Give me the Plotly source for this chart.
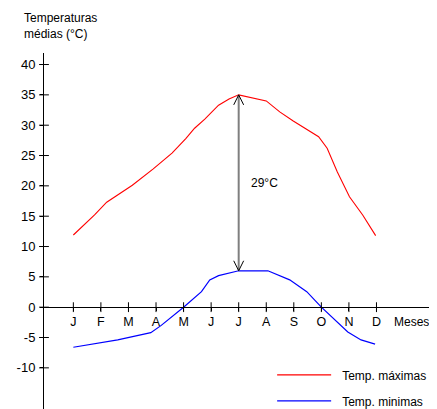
import plotly.graph_objects as go

# ---- data ----
months = ["J", "F", "M", "A", "M", "J", "J", "A", "S", "O", "N", "D"]
month_pos = list(range(12))

# Temp. máximas (position in months from January, °C)
max_x = [0, 0.34, 0.77, 1.21, 1.5, 2.14, 2.9, 3.58, 4.08, 4.4, 4.77, 5.27, 5.65,
         6, 7, 7.49, 7.98, 8.9, 9.21, 9.58, 10.02, 10.5, 10.97]
max_y = [11.9, 13.3, 15.2, 17.3, 18.2, 20.1, 22.8, 25.4, 27.8, 29.5, 31.0, 33.3, 34.3,
         35.0, 34.0, 32.2, 30.7, 28.1, 26.2, 22.3, 18.2, 15.2, 11.8]

# Temp. minimas
min_x = [0, 1.14, 1.61, 2.81, 3.19, 4, 4.65, 4.95, 5.27, 6, 7.06, 7.85, 8.47, 9,
         9.96, 10.44, 10.95]
min_y = [-6.6, -5.8, -5.4, -4.2, -3.0, 0, 2.55, 4.5, 5.2, 6.0, 6.0, 4.5, 2.55, 0,
         -4.1, -5.4, -6.1]

y_tick_vals = [-10, -5, 0, 5, 10, 15, 20, 25, 30, 35, 40]
y_tick_text = ["-10", "-5", "0", "5", "10", "15", "20", "25", "30", "35", "40"]

amplitude_month = 6  # July
amplitude_top = 35
amplitude_bottom = 6

# ---- layout constants ----
FONT = "Liberation Sans, Arial, sans-serif"
x_range = [-1.065, 13.015]
y_range = [-20.74, 41.9]
zero_pos = (0 - y_range[0]) / (y_range[1] - y_range[0])

fig = go.Figure()

fig.add_trace(go.Scatter(x=max_x, y=max_y, mode="lines", name="\u2002Temp. máximas",
                         line=dict(color="#ff0000", width=1.1), legendgroup="a"))
fig.add_trace(go.Scatter(x=min_x, y=min_y, mode="lines", name="\u2002Temp. minimas",
                         line=dict(color="#0000ff", width=1.2), legendgroup="b"))

# tick crosses on the x axis (at y = 0) and on the y axis
fig.add_trace(go.Scatter(x=month_pos, y=[0] * len(month_pos), mode="markers",
                         marker=dict(symbol="line-ns", size=7,
                                     line=dict(color="black", width=1)),
                         showlegend=False, hoverinfo="skip", cliponaxis=False))
fig.add_trace(go.Scatter(x=[x_range[0]] * len(y_tick_vals), y=y_tick_vals, mode="markers",
                         marker=dict(symbol="line-ew", size=7,
                                     line=dict(color="black", width=1)),
                         showlegend=False, hoverinfo="skip", cliponaxis=False))

# amplitude arrow
diff = amplitude_top - amplitude_bottom
fig.add_trace(go.Scatter(x=[amplitude_month, amplitude_month],
                         y=[amplitude_bottom, amplitude_top], mode="lines",
                         line=dict(color="#7f7f7f", width=2),
                         showlegend=False, hoverinfo="skip"))
hx, hy = 0.18, 1.65
fig.add_trace(go.Scatter(
    x=[amplitude_month - hx, amplitude_month, amplitude_month + hx, None,
       amplitude_month - hx, amplitude_month, amplitude_month + hx],
    y=[amplitude_top - hy, amplitude_top, amplitude_top - hy, None,
       amplitude_bottom + hy, amplitude_bottom, amplitude_bottom + hy],
    mode="lines", line=dict(color="black", width=1),
    showlegend=False, hoverinfo="skip"))

fig.add_annotation(x=amplitude_month, y=(amplitude_top + amplitude_bottom) / 2,
                   text=f"{diff}°C", showarrow=False, xanchor="left", xshift=10,
                   font=dict(family=FONT, size=12, color="black"))

fig.add_annotation(x=12.28, y=0, text="Meses", showarrow=False, yshift=-15,
                   font=dict(family=FONT, size=12, color="black"))

fig.add_annotation(xref="paper", yref="paper", x=0, y=1, xshift=-22, yshift=44,
                   xanchor="left", yanchor="top", align="left",
                   text="Temperaturas<br>médias (°C)", showarrow=False,
                   font=dict(family=FONT, size=12, color="black"))

# the page body has an 8px margin, so the figure starts 8px in from the window edge
fig.update_layout(
    width=429, height=425, autosize=False,
    margin=dict(l=36, r=5, t=45, b=0, pad=0),
    paper_bgcolor="white", plot_bgcolor="white",
    font=dict(family=FONT, size=12, color="black"),
    showlegend=True,
    legend=dict(x=0.588, y=0.191, xanchor="left", yanchor="top",
                bgcolor="rgba(0,0,0,0)", itemwidth=54, tracegroupgap=7,
                traceorder="grouped", font=dict(family=FONT, size=12, color="black")),
    xaxis=dict(range=x_range, tickvals=month_pos, ticktext=months, automargin=False,
               anchor="free", position=zero_pos, showline=True, linecolor="black",
               linewidth=1, ticks="outside", ticklen=3, tickcolor="black",
               showgrid=False, zeroline=False,
               tickfont=dict(family=FONT, size=12.5, color="black")),
    yaxis=dict(range=y_range, tickvals=y_tick_vals, ticktext=y_tick_text, automargin=False,
               showline=True, linecolor="black", linewidth=1, ticks="outside",
               ticklen=3, tickcolor="black", showgrid=False, zeroline=False,
               ticklabelstandoff=2,
               tickfont=dict(family=FONT, size=13, color="black")),
)

fig.write_html("out.html")
